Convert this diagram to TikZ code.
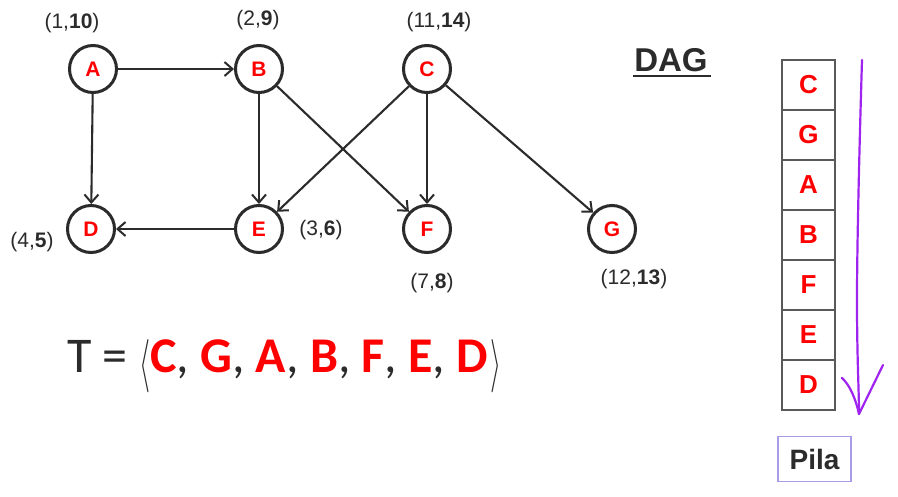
\documentclass[tikz,border=0pt]{standalone}
\usepackage{fontspec}
\usepackage{graphicx}
\setmainfont{Liberation Sans}
\newfontfamily\carlito{Carlito}
\usetikzlibrary{arrows.meta}
\definecolor{ink}{HTML}{2B2B2B}
\definecolor{nodered}{HTML}{FF0000}
\definecolor{purp}{HTML}{A024F0}
\definecolor{pilabox}{HTML}{A89CE8}
\newcommand{\bigang}[1]{\raisebox{-7pt}{\resizebox{11pt}{40pt}{$#1$}}}
\tikzset{
  vtx/.style={circle, draw=ink, line width=3pt, minimum size=47pt, inner sep=0pt, fill=white,
    font=\fontsize{21}{21}\selectfont\bfseries, text=nodered},
  edge/.style={draw=ink, line width=2.1pt, -{Straight Barb[length=8pt,width=14pt,line width=2pt]}},
  coord/.style={font=\fontsize{21}{21}\selectfont, text=ink},
  cell/.style={draw=black!65, line width=1.5pt, minimum width=53pt, minimum height=50pt, inner sep=0pt,
    font=\fontsize{26}{26}\selectfont\bfseries, text=nodered},
}
\begin{document}
\begin{tikzpicture}[x=1pt,y=-1pt]
\useasboundingbox[fill=white] (0,0) rectangle (898,496);
% vertices
\node[vtx] (A) at (93,69) {A};
\node[vtx] (B) at (259,69) {B};
\node[vtx] (C) at (427,69) {C};
\node[vtx] (D) at (91,229) {D};
\node[vtx] (E) at (259,229) {E};
\node[vtx] (F) at (427,229) {F};
\node[vtx] (G) at (612,229) {G};
% edges
\draw[edge] (A) -- (B);
\draw[edge] (A) -- (D);
\draw[edge] (B) -- (E);
\draw[edge] (B) -- (F);
\draw[edge] (C) -- (E);
\draw[edge] (C) -- (F);
\draw[edge] (C) -- (G);
\draw[edge] (E) -- (D);
% time labels
\node[coord] (lA) at (72,23) {(1,\textbf{10})};
\node[coord] (lB) at (258,20) {(2,\textbf{9})};
\node[coord] (lC) at (439,22) {(11,\textbf{14})};
\node[coord] (lD) at (32,242) {(4,\textbf{5})};
\node[coord] (lE) at (321,230) {(3,\textbf{6})};
\node[coord] (lF) at (432,283) {(7,\textbf{8})};
\node[coord] (lG) at (634,279) {(12,\textbf{13})};
% DAG title
\node[font=\fontsize{33}{33}\selectfont\bfseries, text=ink, inner sep=0pt] (dag) at (671,60) {DAG};
\draw[ink, line width=2pt] (633,76) -- (711,76);
% T sequence
\node[anchor=west, inner sep=0pt, text=ink, font=\carlito\fontsize{50}{50}\selectfont] (T) at (67,366)
  {T = \bigang{\langle}\textcolor{nodered}{\bfseries C}, \textcolor{nodered}{\bfseries G}, \textcolor{nodered}{\bfseries A}, \textcolor{nodered}{\bfseries B}, \textcolor{nodered}{\bfseries F}, \textcolor{nodered}{\bfseries E}, \textcolor{nodered}{\bfseries D}\kern2pt\bigang{\rangle}};
% stack
\node[cell] (s1) at (808.5,85) {C};
\node[cell] (s2) at (808.5,135) {G};
\node[cell] (s3) at (808.5,185) {A};
\node[cell] (s4) at (808.5,235) {B};
\node[cell] (s5) at (808.5,285) {F};
\node[cell] (s6) at (808.5,335) {E};
\node[cell] (s7) at (808.5,385) {D};
% purple hand-drawn arrow
\draw[purp, line width=2.2pt, line cap=round, line join=round]
  (862,60) .. controls (859,160) and (857,250) .. (857,300) .. controls (857,360) and (859,390) .. (859,414);
\draw[purp, line width=2.2pt, line cap=round, line join=round]
  (842,378) .. controls (850,385) and (856,400) .. (859,414) -- (883,365);
% Pila
\node[draw=pilabox, line width=1.3pt, minimum width=73pt, minimum height=45pt, inner sep=0pt,
  font=\fontsize{28}{28}\selectfont\bfseries, text=ink] (pila) at (814.5,459) {Pila};
\end{tikzpicture}
\end{document}
